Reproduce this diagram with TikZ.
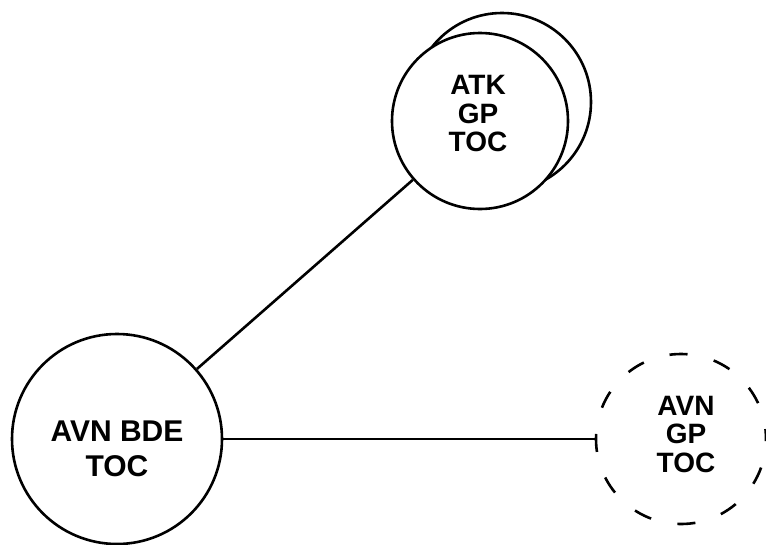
\documentclass[tikz,border=0pt]{standalone}
\usepackage{fontspec}
\setmainfont{Liberation Sans}
\begin{document}
\begin{tikzpicture}[x=1pt,y=-1pt,
  ring/.style={circle,draw=black,line width=2.6pt,inner sep=0pt,fill=white},
  lbl/.style={align=center,font=\bfseries\fontsize{28}{28.5}\selectfont,inner sep=0pt},
  link/.style={line width=2.6pt}]
\useasboundingbox (0,0) rectangle (766,544);
% AVN BDE TOC
\node[ring,minimum size=210pt] (bde) at (117,439) {};
\node[lbl,font=\bfseries\fontsize{30}{35}\selectfont] (bdet) at (117,449) {AVN BDE\\TOC};
% ATK GP TOC (stacked)
\node[ring,minimum size=178pt] (atkback) at (502,102) {};
\node[ring,minimum size=176pt] (atk) at (480,121) {};
\node[lbl] (atkt) at (478,114) {ATK\\GP\\TOC};
% AVN GP TOC (dashed)
\node[ring,fill=none,minimum size=170pt,dash pattern=on 18pt off 27pt,dash phase=8pt] (avn) at (681,439) {};
\node[lbl] (avnt) at (686,434) {AVN\\GP\\TOC};
% connectors
\draw[link] (bde) -- (atk);
\draw[link] (bde) -- (avn);
\end{tikzpicture}
\end{document}
